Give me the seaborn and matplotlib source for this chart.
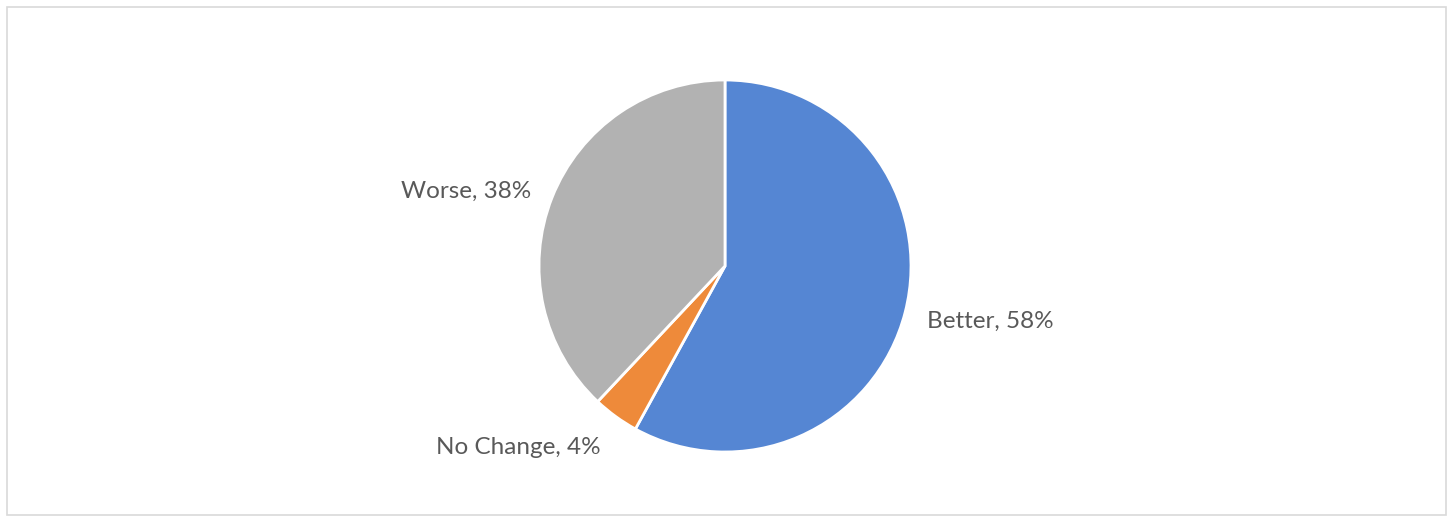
import matplotlib
matplotlib.use("Agg")
import matplotlib.pyplot as plt
import seaborn as sns
from matplotlib.patches import Rectangle

categories = ["Better", "No Change", "Worse"]
shares = [58, 4, 38]
colors = ["#5586d3", "#ee8a3a", "#b2b2b2"]

sns.set_theme(style="white")
plt.rcParams['font.family'] = ['Lato', 'DejaVu Sans']

W, H = 1450, 518
cx, cy, r = 725, 266, 186

fig = plt.figure(figsize=(W / 100, H / 100), dpi=100)
fig.patch.set_facecolor("white")
fig.patches.append(Rectangle((7 / W, 3 / H), 1439 / W, 508 / H, transform=fig.transFigure,
                             fill=False, edgecolor="#d9d9d9", linewidth=1.2))

ax = fig.add_axes([(cx - r) / W, (H - cy - r) / H, 2 * r / W, 2 * r / H])
wedges, _ = ax.pie(shares, colors=colors, startangle=90, counterclock=False,
                   radius=1, wedgeprops={"edgecolor": "white", "linewidth": 2})
ax.set_xlim(-1, 1)
ax.set_ylim(-1, 1)
ax.set_aspect("equal")
ax.axis("off")

# label centres (pixels), Excel best-fit placement
label_pos = [(990, 321), (518, 448), (466, 191)]
for cat, val, (px, py) in zip(categories, shares, label_pos):
    ax.text((px - cx) / r, (cy - py) / r, f"{cat}, {val}%", ha="center", va="center",
            fontsize=17.5, color="#595959")

plt.savefig("out.png", dpi=100)
